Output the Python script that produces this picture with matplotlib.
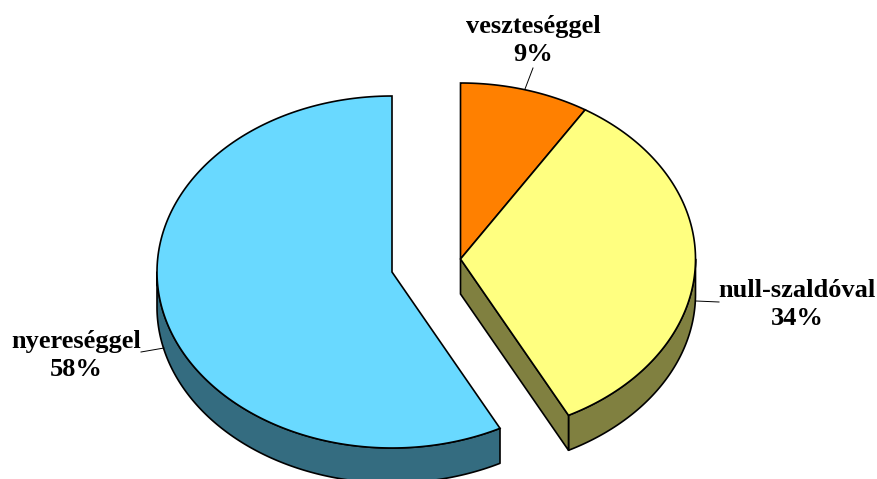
import numpy as np
import matplotlib
matplotlib.use("Agg")
import matplotlib.pyplot as plt

labels = ["veszteséggel", "null-szaldóval", "nyereséggel"]
shares = [8.9, 33.5, 57.6]
top_colours = ["#FF8000", "#FFFF80", "#69D9FF"]
side_colours = ["#804000", "#808040", "#346C80"]

# pie geometry in pixels
rx, ry = 235, 176
depth = 35
centre_right = (460.5, 259)
centre_left = (392, 272)
centres = [centre_right, centre_right, centre_left]
label_pos = [(533, 40.5), (797, 304.5), (76, 355.5)]
leaders = [((533, 68), (525, 89)), ((719, 302), (696, 301)), ((141, 352), (164, 348))]


def ell_xy(centre, a0, a1, n=200):
    # angles are clockwise from twelve o'clock
    t = np.radians(np.linspace(a0, a1, n))
    return centre[0] + rx*np.sin(t), centre[1] - ry*np.cos(t)


def draw_side(ax, centre, a0, a1, colour, z):
    x, y = ell_xy(centre, a0, a1)
    ax.fill(np.r_[x, x[::-1]], np.r_[y, y[::-1] + depth], facecolor=colour,
            edgecolor="black", lw=1.2, zorder=z, joinstyle="round")


fig = plt.figure(figsize=(8.77, 4.79), dpi=100)
ax = fig.add_axes([0, 0, 1, 1])
ax.set_xlim(0, 877)
ax.set_ylim(479, 0)
ax.axis("off")

total = sum(shares)
angles = np.cumsum([0] + shares) / total * 360

for i in range(len(shares)):
    a0, a1 = angles[i], angles[i+1]
    c = centres[i]

    # outer wall: only the front half (90 to 270 degrees) can be seen
    s0, s1 = max(a0, 90), min(a1, 270)
    if s1 > s0:
        draw_side(ax, c, s0, s1, side_colours[i], 1)

    # cut face of the right hand piece faces the viewer
    if i == 1:
        ex, ey = ell_xy(c, a1, a1, 1)
        ax.fill([c[0], ex[0], ex[0], c[0]], [c[1], ey[0], ey[0] + depth, c[1] + depth],
                facecolor=side_colours[i], edgecolor="black", lw=1.2, zorder=1)

    x, y = ell_xy(c, a0, a1)
    ax.fill(np.r_[c[0], x], np.r_[c[1], y], facecolor=top_colours[i],
            edgecolor="black", lw=1.2, zorder=2)

for i in range(len(labels)):
    ax.text(label_pos[i][0], label_pos[i][1], f"{labels[i]}\n{round(shares[i])}%",
            family="Liberation Serif", weight="bold", fontsize=19, ha="center",
            va="center", linespacing=1.27, color="black", zorder=4)
    (x0, y0), (x1, y1) = leaders[i]
    ax.plot([x0, x1], [y0, y1], color="black", lw=0.7, zorder=3)

fig.savefig("out.png", dpi=100)
